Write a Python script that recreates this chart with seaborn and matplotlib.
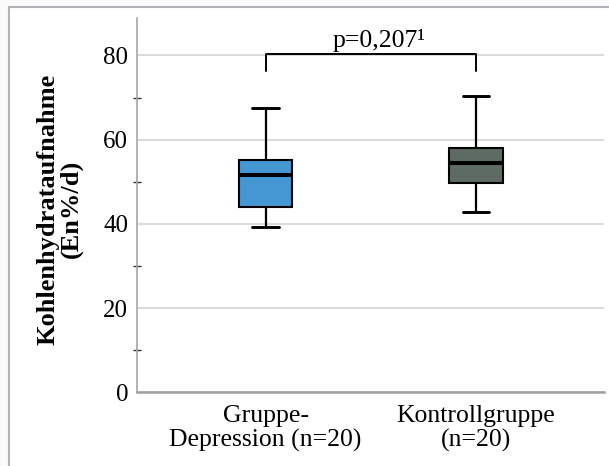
import matplotlib
matplotlib.use("Agg")
import matplotlib.pyplot as plt
from matplotlib.patches import Rectangle
import seaborn as sns
import pandas as pd

# Five-number summaries (min, Q1, median, Q3, max) per group
groups = ["Gruppe-\nDepression (n=20)", "Kontrollgruppe\n(n=20)"]
depression_summary = [39.3, 43.9, 51.7, 55.2, 67.6]
control_summary = [42.9, 49.6, 54.5, 58.1, 70.4]
box_colors = ["#4597d4", "#5d6b63"]
y_ticks = [0, 20, 40, 60, 80]
y_minor_ticks = [10, 30, 50, 70]
y_label = "Kohlenhydrataufnahme\n(En%/d)"
p_label = "p=0,207\u00b9"

df = pd.DataFrame({
    "Gruppe": [groups[0]] * len(depression_summary) + [groups[1]] * len(control_summary),
    "Wert": depression_summary + control_summary,
})

sns.set_style("white")
plt.rcParams["font.family"] = ["Liberation Serif", "DejaVu Serif"]
plt.rcParams["text.color"] = "black"
plt.rcParams["xtick.labelcolor"] = "black"
plt.rcParams["ytick.labelcolor"] = "black"

fig = plt.figure(figsize=(6.09, 4.66), dpi=100, facecolor="#fbfbfb")
W, H = 609, 466

# light frame around the chart
fig.patches.append(Rectangle((8.7 / W, -0.1), 1.2, (466 - 7) / H + 0.1,
                             transform=fig.transFigure, facecolor="white",
                             edgecolor="#b4b4bc", linewidth=1.5, zorder=-5))

ax = fig.add_axes([136.7 / W, (H - 392.3) / H, (604 - 136.7) / W, (392.3 - 18) / H])
ax.set_facecolor("none")

sns.boxplot(data=df, x="Gruppe", y="Wert", hue="Gruppe", palette=box_colors,
            saturation=1, legend=False, width=0.252, whis=(0, 100),
            showfliers=False, linecolor="black", linewidth=1.5,
            medianprops=dict(linewidth=2.9, color="black"),
            whiskerprops=dict(linewidth=1.6, color="black"),
            capprops=dict(linewidth=2.1, color="black"),
            ax=ax, zorder=3)

ax.set_xlim(-0.612, 1.608)
ax.set_ylim(0, 88.9)
ax.set_yticks(y_ticks)
ax.set_yticks(y_minor_ticks, minor=True)
ax.yaxis.grid(True, which="major", color="#d9d9d9", linewidth=1.4, zorder=0)
ax.set_axisbelow(True)

ax.tick_params(axis="y", which="major", left=True, length=0, pad=6, labelsize=18)
ax.tick_params(axis="y", which="minor", left=True, direction="inout", length=6,
               width=1.0, color="#333333")
ax.tick_params(axis="x", length=0, pad=9, labelsize=18.5)
for lbl in ax.get_xticklabels():
    lbl.set_linespacing(1.12)

for side in ("top", "right"):
    ax.spines[side].set_visible(False)
ax.spines["left"].set_color("#a6a6a6")
ax.spines["left"].set_linewidth(1.2)
ax.spines["bottom"].set_color("#a0a0a0")
ax.spines["bottom"].set_linewidth(1.8)

ax.set_xlabel("")
ax.set_ylabel("")
fig.text(59.5 / W, (H - 209) / H, y_label, rotation=90, ha="center", va="center",
         fontsize=19, fontweight="bold", linespacing=1.0, multialignment="center")

# significance bracket between the two groups
ax.plot([0, 0, 1, 1], [76.3, 80.4, 80.4, 76.3], color="black", linewidth=1.4,
        solid_joinstyle="round", zorder=4)
ax.text(0.319, 82.1, p_label, ha="left", va="baseline", fontsize=18.5)

fig.savefig("out.png", dpi=100, facecolor=fig.get_facecolor())
